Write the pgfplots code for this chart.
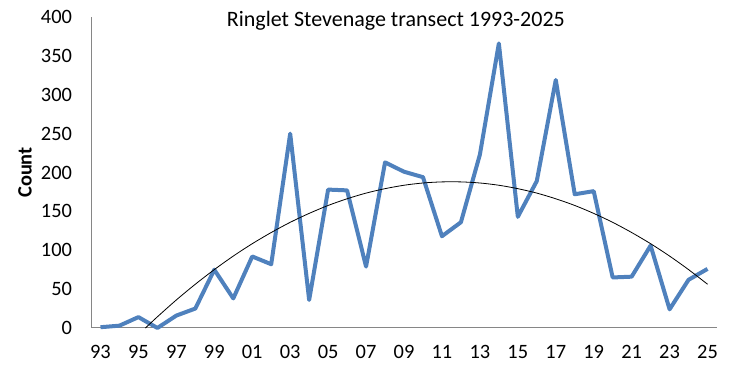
\documentclass[border=0pt]{standalone}
\usepackage{fontspec}
\setmainfont{Carlito}
\usepackage{pgfplots}
\pgfplotsset{compat=1.18}
\definecolor{exblue}{HTML}{4F81BD}
\definecolor{axgray}{HTML}{868686}
\begin{document}
\fontsize{15.3}{18}\selectfont
\begin{tikzpicture}[x=1pt,y=1pt]
\begin{axis}[
  name=ax,
  scale only axis,
  width=469.5pt, height=233.25pt,
  xmin=-0.5, xmax=32.5,
  ymin=0, ymax=400,
  axis x line*=bottom,
  axis y line*=left,
  axis line style={axgray, line width=0.75pt},
  xtick={0,2,...,32},
  xticklabels={93,95,97,99,01,03,05,07,09,11,13,15,17,19,21,23,25},
  ytick={0,50,...,400},
  major tick length=0pt,
  tick style={draw=none},
  xticklabel style={yshift=-8pt},
  yticklabel style={xshift=-9pt},
  /pgf/number format/assume math mode=true,
  ylabel={\textbf{Count}},
  ylabel style={at={(rel axis cs:0,0.5)}, anchor=center, yshift=49.5pt},
  title={\fontsize{16.5}{19}\selectfont Ringlet Stevenage transect 1993-2025},
  title style={at={(rel axis cs:0.487,0.98)}, anchor=center, inner sep=0pt, yshift=-4.5pt},
  clip=false,
]
\addplot[exblue, line width=3pt, line join=round] coordinates {
(0,1) (1,3) (2,14) (3,0) (4,16) (5,25) (6,75) (7,38) (8,92) (9,82)
(10,250) (11,36) (12,178) (13,177) (14,79) (15,213) (16,201) (17,194)
(18,118) (19,136) (20,223) (21,366) (22,143) (23,189) (24,319) (25,172)
(26,176) (27,65) (28,66) (29,106) (30,24) (31,62) (32,76)
};
\addplot[black, line width=0.6pt, smooth] coordinates {
(2.37,0) (3,14.4) (4,36.1) (5,56.3) (6,75.1) (7,92.5) (8,108.4) (9,122.8)
(10,135.9) (11,147.4) (12,157.6) (13,166.2) (14,173.5) (15,179.2) (16,183.6)
(17,186.5) (18,187.9) (19,187.9) (20,186.5) (21,183.6) (22,179.2) (23,173.5)
(24,166.2) (25,157.6) (26,147.4) (27,135.9) (28,122.8) (29,108.4) (30,92.5)
(31,75.1) (32,56.3)
};
\end{axis}
\pgfresetboundingbox
\path (ax.south west) ++(-68.25pt,-33pt) coordinate (bl);
\path (ax.north east) ++(11.25pt,12.75pt) coordinate (tr);
\path[use as bounding box] (bl) rectangle (tr);
\end{tikzpicture}
\end{document}
